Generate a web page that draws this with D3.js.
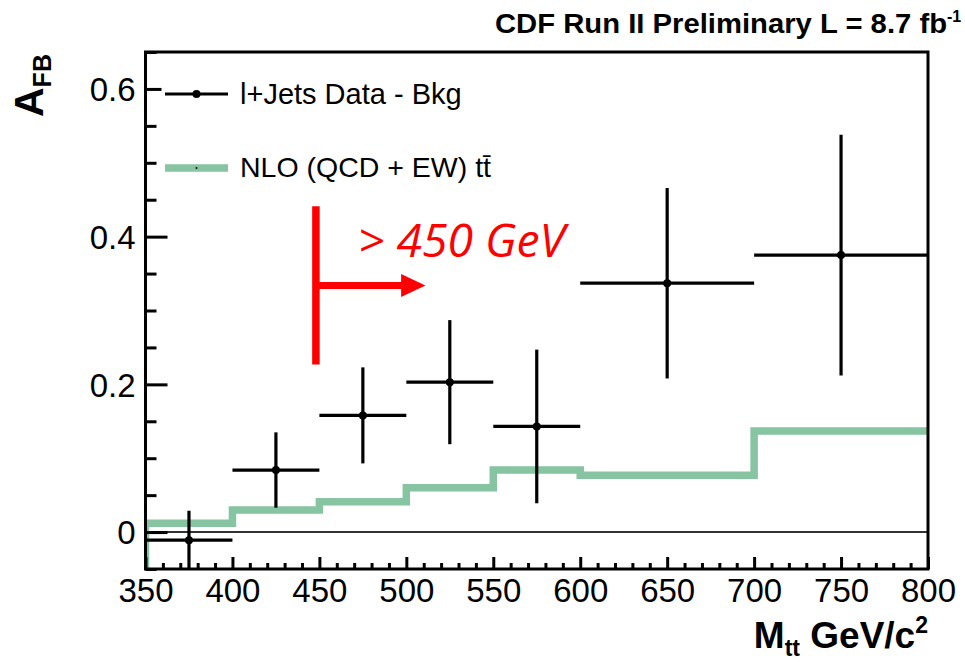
<!DOCTYPE html>
<html>
<head>
<meta charset="utf-8">
<script src="https://cdn.jsdelivr.net/npm/d3@7"></script>
<style>
  body { margin: 0; background: #fff; }
  text { font-family: "Liberation Sans", Arial, sans-serif; }
</style>
</head>
<body>
<div id="chart"></div>
<script>
// mass bins (GeV/c^2) and measured A_FB with errors
const binLo = [350, 400, 450, 500, 550, 600, 700];
const binHi = [400, 450, 500, 550, 600, 700, 800];
const afbData = [-0.011, 0.084, 0.158, 0.203, 0.143, 0.337, 0.375];
const afbErr = [0.040, 0.051, 0.065, 0.084, 0.104, 0.129, 0.163];

// NLO (QCD + EW) prediction, step histogram
const nloEdges = [350, 400, 450, 500, 550, 600, 700, 800];
const nloValues = [0.012, 0.030, 0.041, 0.060, 0.084, 0.077, 0.137];

const xTicks = [350, 400, 450, 500, 550, 600, 650, 700, 750, 800];
const yTicks = [0, 0.2, 0.4, 0.6];
const cutMass = 448;

let width = 965, height = 662;
let margin = {top: 52, right: 37, bottom: 93, left: 145.5};

let x = d3.scaleLinear()
    .domain([350, 800])
    .range([margin.left, width - margin.right]);

let y = d3.scaleLinear()
    .domain([-0.05, 0.65])
    .range([height - margin.bottom, margin.top]);

let svg = d3.select("#chart").append("svg")
    .attr("width", width)
    .attr("height", height);

svg.append("defs").append("clipPath").attr("id", "plotclip")
  .append("rect")
    .attr("x", x(350)).attr("y", y(0.65))
    .attr("width", x(800) - x(350)).attr("height", y(-0.05) - y(0.65));

let plot = svg.append("g").attr("clip-path", "url(#plotclip)");

// zero line
plot.append("line")
    .attr("x1", x(350)).attr("x2", x(800))
    .attr("y1", y(0)).attr("y2", y(0))
    .attr("stroke", "#333").attr("stroke-width", 2);

// NLO step line
let steps = [[350, -0.05]];
nloValues.forEach((v, i) => {
  steps.push([nloEdges[i], v]);
  steps.push([nloEdges[i + 1], v]);
});
plot.append("path")
    .datum(steps)
    .attr("fill", "none")
    .attr("stroke", "#86c4a2")
    .attr("stroke-width", 7.5)
    .attr("d", d3.line().x(d => x(d[0])).y(d => y(d[1])));

// data points with errors
let pts = plot.selectAll(".pt")
    .data(afbData.map((v, i) => ({lo: binLo[i], hi: binHi[i], v: v, e: afbErr[i]})))
    .enter().append("g").attr("class", "pt");

pts.append("line")
    .attr("x1", d => x(d.lo)).attr("x2", d => x(d.hi))
    .attr("y1", d => y(d.v)).attr("y2", d => y(d.v))
    .attr("stroke", "#000").attr("stroke-width", 3.2);
pts.append("line")
    .attr("x1", d => x((d.lo + d.hi) / 2)).attr("x2", d => x((d.lo + d.hi) / 2))
    .attr("y1", d => y(d.v - d.e)).attr("y2", d => y(d.v + d.e))
    .attr("stroke", "#000").attr("stroke-width", 3.2);
pts.append("circle")
    .attr("cx", d => x((d.lo + d.hi) / 2)).attr("cy", d => y(d.v))
    .attr("r", 4).attr("fill", "#000");

// axes, ticks pointing inward
let xMinor = d3.range(350, 801, 10).filter(t => t % 50 != 0);
let yMinor = d3.range(-0.05, 0.651, 0.05).filter(t => yTicks.every(m => Math.abs(m - t) > 1e-6));

let xAxis = svg.append("g")
    .attr("transform", `translate(0,${y(-0.05)})`)
    .call(d3.axisBottom(x).tickValues(xTicks).tickSize(-12).tickPadding(10).tickFormat(d3.format("d")));
svg.append("g")
    .attr("transform", `translate(0,${y(-0.05)})`)
    .call(d3.axisBottom(x).tickValues(xMinor).tickSize(-6).tickFormat(""));

let yAxis = svg.append("g")
    .attr("transform", `translate(${x(350)},0)`)
    .call(d3.axisLeft(y).tickValues(yTicks).tickSize(-22).tickPadding(10).tickFormat(d => d == 0 ? "0" : d3.format(".1f")(d)));
svg.append("g")
    .attr("transform", `translate(${x(350)},0)`)
    .call(d3.axisLeft(y).tickValues(yMinor).tickSize(-11).tickFormat(""));

svg.selectAll(".domain").remove();
svg.selectAll(".tick line").attr("stroke", "#000").attr("stroke-width", 3);
svg.selectAll(".tick text").attr("fill", "#000").style("font-size", "33px");
xAxis.selectAll(".tick text").attr("dy", "0.71em");
yAxis.selectAll(".tick text").attr("dy", "0.36em");

// frame
svg.append("rect")
    .attr("x", x(350)).attr("y", y(0.65))
    .attr("width", x(800) - x(350)).attr("height", y(-0.05) - y(0.65))
    .attr("fill", "none").attr("stroke", "#000").attr("stroke-width", 3);

// legend
let leg = svg.append("g");
leg.append("rect").attr("x", x(350) + 16).attr("y", 68).attr("width", 360).attr("height", 125).attr("fill", "#fff");
leg.append("line").attr("x1", 165).attr("x2", 228).attr("y1", 94).attr("y2", 94)
    .attr("stroke", "#000").attr("stroke-width", 3.2);
leg.append("circle").attr("cx", 196.5).attr("cy", 94).attr("r", 4).attr("fill", "#000");
leg.append("text").attr("x", 240).attr("y", 103.5).style("font-size", "29px").text("l+Jets Data - Bkg");
leg.append("line").attr("x1", 165).attr("x2", 228).attr("y1", 168).attr("y2", 168)
    .attr("stroke", "#86c4a2").attr("stroke-width", 7.5);
leg.append("circle").attr("cx", 196.5).attr("cy", 168).attr("r", 1).attr("fill", "#000");
leg.append("text").attr("x", 240).attr("y", 177).style("font-size", "28.5px").text("NLO (QCD + EW) tt\u0304");

// title
let title = svg.append("text").attr("x", 495).attr("y", 33)
    .style("font-size", "27px").style("font-weight", "bold");
title.append("tspan").attr("textLength", 452).attr("lengthAdjust", "spacingAndGlyphs")
    .text("CDF Run II Preliminary L = 8.7 fb");
title.append("tspan").attr("dy", -11).style("font-size", "16px").text("-1");

// axis titles
let yt = svg.append("text")
    .attr("transform", "translate(43,117) rotate(-90)")
    .style("font-weight", "bold").style("font-size", "41px");
yt.append("tspan").text("A");
yt.append("tspan").attr("dy", 8).style("font-size", "25px").text("FB");

let xt = svg.append("text")
    .attr("x", x(800)).attr("y", 648).attr("text-anchor", "end")
    .style("font-weight", "bold").style("font-size", "37px");
xt.append("tspan").text("M");
xt.append("tspan").attr("dy", 8).style("font-size", "23px").text("tt");
xt.append("tspan").attr("dy", -8).text(" GeV/c");
xt.append("tspan").attr("dy", -15).style("font-size", "23px").text("2");

// red cut annotation
let red = "#ff0000";
svg.append("line")
    .attr("x1", x(cutMass)).attr("x2", x(cutMass))
    .attr("y1", y(0.441)).attr("y2", y(0.227))
    .attr("stroke", red).attr("stroke-width", 7.5);
svg.append("line")
    .attr("x1", x(cutMass)).attr("x2", x(498))
    .attr("y1", y(0.334)).attr("y2", y(0.334))
    .attr("stroke", red).attr("stroke-width", 7);
svg.append("path")
    .attr("d", `M${x(497)},${y(0.334) - 11.5} L${x(511)},${y(0.334)} L${x(497)},${y(0.334) + 11.5} Z`)
    .attr("fill", red);
svg.append("text")
    .attr("x", 358).attr("y", 257)
    .attr("textLength", 207).attr("lengthAdjust", "spacingAndGlyphs")
    .style("font-family", "'Open Sans', sans-serif").style("font-style", "italic")
    .style("font-size", "45px").attr("fill", red)
    .text("> 450 GeV");
</script>
</body>
</html>
